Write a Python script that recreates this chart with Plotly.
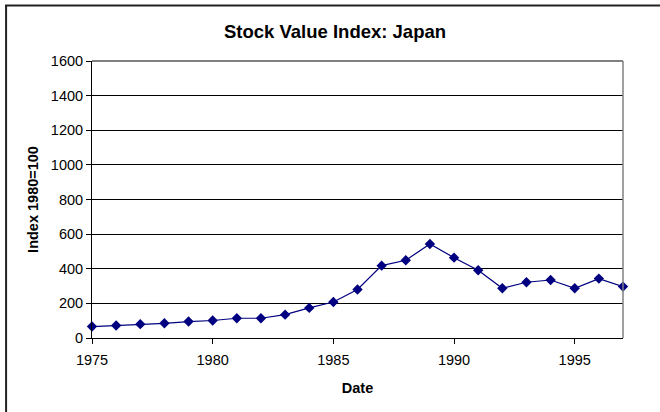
import plotly.graph_objects as go

years = list(range(1975, 1998))
index_values = [66, 72, 80, 85, 95, 101, 114, 114, 135, 174, 208, 280, 418, 449,
                543, 464, 391, 287, 322, 335, 287, 343, 297]
x_ticks = [1975, 1980, 1985, 1990, 1995]
y_ticks = [0, 200, 400, 600, 800, 1000, 1200, 1400, 1600]

W, H = 660, 412
L, R, T, B = 92, 36.5, 61, 73.5
pw = W - L - R
ph = H - T - B

def px_x(p):
    return (p - L) / pw

def px_y(p):
    return (H - B - p) / ph

fig = go.Figure()
fig.add_trace(go.Scatter(
    x=years, y=index_values, mode="lines+markers",
    line=dict(color="#000080", width=1.2),
    marker=dict(symbol="diamond", size=8, color="#000080"),
    cliponaxis=False, showlegend=False,
))

font = "Arial, Liberation Sans, sans-serif"
fig.update_layout(
    width=W, height=H,
    margin=dict(l=L, r=R, t=T, b=B, autoexpand=False),
    paper_bgcolor="white", plot_bgcolor="white",
    font=dict(family=font, size=14.5, color="black"),
    title=dict(text="<b>Stock Value Index: Japan</b>", x=335 / W, xref="container",
               xanchor="center", y=1 - 32 / H, yanchor="middle",
               font=dict(size=18.5, family=font)),
    xaxis=dict(range=[1975, 1997], tickvals=x_ticks, showgrid=False,
               showline=True, linecolor="black", linewidth=1,
               ticks="outside", ticklen=5, tickcolor="black", automargin=False,
               ticklabelstandoff=4,
               title=dict(text="<b>Date</b>", standoff=15, font=dict(size=14.5)),
               zeroline=False),
    yaxis=dict(range=[0, 1600], tickvals=y_ticks, showgrid=True, gridcolor="black",
               gridwidth=1, showline=True, linecolor="black", linewidth=1,
               ticks="outside", ticklen=5, tickcolor="black", automargin=False,
               title=dict(text="<b>Index 1980=100</b>", standoff=8, font=dict(size=14.5)),
               zeroline=False),
)

# gray plot-area border (top and right)
fig.add_shape(type="line", xref="paper", yref="paper", x0=0, x1=1, y0=1, y1=1,
              line=dict(color="#808080", width=2))
fig.add_shape(type="line", xref="paper", yref="paper", x0=1, x1=1, y0=0, y1=1,
              line=dict(color="#808080", width=1.5))
# chart frame (top and left)
fig.add_shape(type="line", xref="paper", yref="paper", x0=px_x(5), x1=px_x(670),
              y0=px_y(5.5), y1=px_y(5.5), line=dict(color="#222222", width=2))
fig.add_shape(type="line", xref="paper", yref="paper", x0=px_x(6), x1=px_x(6),
              y0=px_y(5), y1=px_y(420), line=dict(color="#222222", width=2))

fig.write_html("out.html", config={"displayModeBar": False},
               post_script="document.body.style.margin='0';document.body.style.overflow='hidden';")
